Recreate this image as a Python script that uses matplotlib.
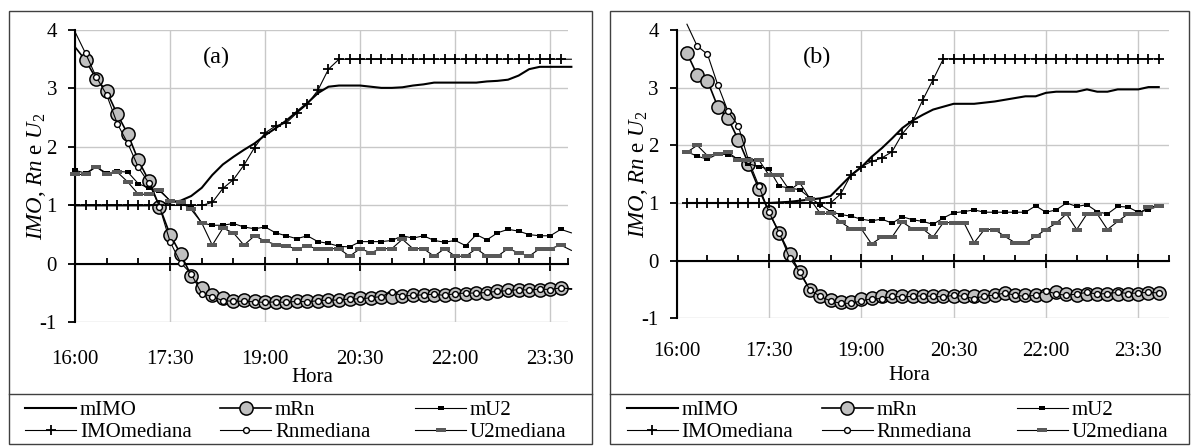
import numpy as np
import matplotlib
matplotlib.use('Agg')
import matplotlib.pyplot as plt
from matplotlib.lines import Line2D
from matplotlib.patches import Rectangle

W, H = 1191, 446
plt.rcParams['font.family'] = ['Liberation Serif', 'DejaVu Serif']
plt.rcParams['mathtext.fontset'] = 'custom'
plt.rcParams['mathtext.rm'] = 'Liberation Serif'
plt.rcParams['mathtext.it'] = 'Liberation Serif:italic'
plt.rcParams['axes.unicode_minus'] = False
FS = 15.0

# ---------------- data ----------------
# time of day in hours (10-minute records)
time_a = 16 + np.arange(48) / 6          # 16:00 ... 23:50
time_b = 16 + np.arange(1, 48) / 6       # 16:10 ... 23:50

xtick_hours = [16, 17.5, 19, 20.5, 22, 23.5]
xtick_labels = ['16:00', '17:30', '19:00', '20:30', '22:00', '23:30']
ytick_vals = [-1, 0, 1, 2, 3, 4]
ytick_labels = ['-1', '0', '1', '2', '3', '4']

# panel (a)
mimo_a = [1.00, 1.00, 1.00, 1.00, 1.00, 1.00, 1.00, 1.00, 1.02, 1.05,
          1.08, 1.16, 1.30, 1.52, 1.70, 1.83, 1.95, 2.06, 2.20, 2.32,
          2.45, 2.60, 2.75, 2.92, 3.03, 3.05, 3.05, 3.05, 3.03, 3.01,
          3.01, 3.02, 3.05, 3.07, 3.10, 3.10, 3.10, 3.10, 3.10, 3.12,
          3.13, 3.15, 3.22, 3.33, 3.37, 3.37, 3.37, 3.37]
imomed_a = [1.00, 1.00, 1.00, 1.00, 1.00, 1.00, 1.00, 1.00, 1.00, 1.00,
            1.00, 1.00, 1.00, 1.05, 1.29, 1.44, 1.69, 1.99, 2.24, 2.36,
            2.41, 2.58, 2.73, 2.97, 3.33, 3.50, 3.50, 3.50, 3.50, 3.50,
            3.50, 3.50, 3.50, 3.50, 3.50, 3.50, 3.50, 3.50, 3.50, 3.50,
            3.50, 3.50, 3.50, 3.50, 3.50, 3.50, 3.50, 3.50]
mrn_a = [3.71, 3.48, 3.17, 2.95, 2.56, 2.22, 1.77, 1.42, 0.98, 0.50,
         0.17, -0.20, -0.41, -0.53, -0.59, -0.63, -0.62, -0.64, -0.65, -0.65,
         -0.65, -0.64, -0.64, -0.63, -0.62, -0.61, -0.60, -0.59, -0.58, -0.57,
         -0.56, -0.55, -0.54, -0.53, -0.53, -0.53, -0.52, -0.51, -0.50, -0.50,
         -0.47, -0.45, -0.44, -0.44, -0.44, -0.43, -0.41, -0.43]
rnmed_a = [3.97, 3.60, 3.20, 2.89, 2.40, 2.06, 1.65, 1.38, 0.98, 0.38,
           0.02, -0.17, -0.51, -0.56, -0.63, -0.64, -0.64, -0.65, -0.66, -0.65,
           -0.66, -0.64, -0.65, -0.63, -0.62, -0.62, -0.60, -0.60, -0.58, -0.56,
           -0.48, -0.55, -0.54, -0.53, -0.52, -0.54, -0.51, -0.50, -0.50, -0.49,
           -0.47, -0.46, -0.44, -0.45, -0.43, -0.44, -0.41, -0.43]
mu2_a = [1.60, 1.55, 1.66, 1.55, 1.58, 1.57, 1.37, 1.30, 1.25, 1.08,
         1.05, 0.97, 0.70, 0.66, 0.66, 0.69, 0.63, 0.60, 0.63, 0.53,
         0.48, 0.43, 0.48, 0.38, 0.35, 0.30, 0.29, 0.38, 0.38, 0.38,
         0.40, 0.48, 0.44, 0.48, 0.40, 0.37, 0.40, 0.31, 0.50, 0.41,
         0.53, 0.59, 0.56, 0.50, 0.48, 0.48, 0.59, 0.53]
u2med_a = [1.53, 1.53, 1.66, 1.53, 1.57, 1.40, 1.19, 1.19, 1.27, 1.08,
           1.06, 0.93, 0.70, 0.32, 0.61, 0.53, 0.32, 0.48, 0.39, 0.33,
           0.30, 0.26, 0.30, 0.26, 0.26, 0.26, 0.13, 0.26, 0.19, 0.26,
           0.26, 0.42, 0.26, 0.26, 0.13, 0.26, 0.13, 0.13, 0.26, 0.13,
           0.13, 0.26, 0.19, 0.13, 0.26, 0.26, 0.32, 0.23]

# panel (b)
mimo_b = [1.00, 1.00, 1.00, 1.00, 1.00, 1.00, 1.00, 1.00, 1.00, 1.01,
          1.02, 1.04, 1.06, 1.08, 1.12, 1.30, 1.48, 1.62, 1.80, 1.95,
          2.12, 2.30, 2.43, 2.53, 2.62, 2.67, 2.72, 2.72, 2.72, 2.74,
          2.76, 2.79, 2.82, 2.85, 2.85, 2.91, 2.93, 2.93, 2.93, 2.97,
          2.93, 2.93, 2.97, 2.97, 2.97, 3.01, 3.01]
imomed_b = [1.00, 1.00, 1.00, 1.00, 1.00, 1.00, 1.00, 1.00, 1.00, 1.00,
            1.00, 1.00, 1.00, 1.00, 1.00, 1.16, 1.49, 1.63, 1.72, 1.78,
            1.89, 2.20, 2.41, 2.79, 3.14, 3.50, 3.50, 3.50, 3.50, 3.50,
            3.50, 3.50, 3.50, 3.50, 3.50, 3.50, 3.50, 3.50, 3.50, 3.50,
            3.50, 3.50, 3.50, 3.50, 3.50, 3.50, 3.50]
mrn_b = [3.60, 3.22, 3.12, 2.67, 2.47, 2.10, 1.68, 1.25, 0.84, 0.48,
         0.12, -0.20, -0.51, -0.61, -0.68, -0.71, -0.72, -0.67, -0.65, -0.61,
         -0.62, -0.62, -0.62, -0.62, -0.62, -0.62, -0.62, -0.61, -0.61, -0.61,
         -0.60, -0.56, -0.60, -0.60, -0.60, -0.60, -0.55, -0.57, -0.60, -0.58,
         -0.58, -0.58, -0.57, -0.57, -0.57, -0.56, -0.56]
rnmed_b = [4.10, 3.72, 3.58, 3.05, 2.59, 2.34, 1.74, 1.30, 0.84, 0.48,
           0.05, -0.20, -0.51, -0.62, -0.70, -0.74, -0.74, -0.70, -0.66, -0.66,
           -0.62, -0.63, -0.62, -0.61, -0.62, -0.63, -0.60, -0.62, -0.66, -0.61,
           -0.60, -0.56, -0.60, -0.62, -0.60, -0.52, -0.58, -0.60, -0.58, -0.55,
           -0.58, -0.57, -0.55, -0.57, -0.56, -0.55, -0.56]
mu2_b = [1.89, 1.81, 1.76, 1.85, 1.84, 1.76, 1.68, 1.63, 1.59, 1.29,
         1.26, 1.23, 1.09, 0.97, 0.85, 0.80, 0.77, 0.72, 0.69, 0.72,
         0.65, 0.76, 0.71, 0.68, 0.63, 0.74, 0.83, 0.85, 0.88, 0.84,
         0.84, 0.84, 0.84, 0.84, 0.95, 0.84, 0.88, 1.00, 0.94, 0.97,
         0.85, 0.81, 0.94, 0.93, 0.84, 0.88, 0.95]
u2med_b = [1.88, 2.00, 1.82, 1.85, 1.88, 1.75, 1.75, 1.75, 1.48, 1.48,
           1.22, 1.35, 1.07, 0.82, 0.82, 0.67, 0.55, 0.55, 0.29, 0.41,
           0.41, 0.67, 0.55, 0.55, 0.41, 0.66, 0.66, 0.66, 0.31, 0.54,
           0.54, 0.42, 0.31, 0.31, 0.42, 0.54, 0.65, 0.81, 0.54, 0.81,
           0.81, 0.54, 0.68, 0.81, 0.81, 0.93, 0.95]

# ---------------- styles ----------------
RECT_S = [(-1, -0.55), (1, -0.55), (1, 0.55), (-1, 0.55), (-1, -0.55)]
RECT_W = [(-1, -0.33), (1, -0.33), (1, 0.33), (-1, 0.33), (-1, -0.33)]
STYLES = {
    'mIMO': dict(color='black', lw=1.5),
    'mRn': dict(color='black', lw=1.2, marker='o', ms=9.5, mfc='#c0c0c0',
                mec='black', mew=1.1),
    'mU2': dict(color='black', lw=0.8, marker=RECT_S, ms=4.6, mfc='black',
                mec='black', mew=0),
    'IMOmediana': dict(color='black', lw=0.8, marker='+', ms=6.5, mew=1.3,
                       mec='black'),
    'Rnmediana': dict(color='black', lw=0.8, marker='o', ms=4.2, mfc='white',
                      mec='black', mew=1.0),
    'U2mediana': dict(color='black', lw=0.8, marker=RECT_W, ms=7.6,
                      mfc='#595959', mec='#595959', mew=0),
}
ZORD = {'mIMO': 3, 'mRn': 4, 'mU2': 5, 'IMOmediana': 6, 'Rnmediana': 7, 'U2mediana': 8}


def fx(px):
    return px / W


def fy(py):
    return 1 - py / H


fig = plt.figure(figsize=(W / 100, H / 100), dpi=100)

panels = [
    dict(label='(a)', t=time_a, xmax=23.78, box=(9, 11, 592, 444),
         ax=(75, 30, 568, 322.3), ylab_x=37, lab=(216, 57), hora=(312, 377),
         tick_y=359, leg_x=[25, 220, 415], skip_rn_first=True,
         data={'mIMO': mimo_a, 'IMOmediana': imomed_a, 'mRn': mrn_a,
               'Rnmediana': rnmed_a, 'mU2': mu2_a, 'U2mediana': u2med_a}),
    dict(label='(b)', t=time_b, xmax=24.0, box=(610, 11, 1189, 444),
         ax=(676.7, 30, 1169, 318.3), ylab_x=638, lab=(817, 57), hora=(909, 375),
         tick_y=352, leg_x=[626.7, 821.7, 1016.7], skip_rn_first=False,
         data={'mIMO': mimo_b, 'IMOmediana': imomed_b, 'mRn': mrn_b,
               'Rnmediana': rnmed_b, 'mU2': mu2_b, 'U2mediana': u2med_b}),
]

draw_order = ['mIMO', 'mRn', 'mU2', 'IMOmediana', 'Rnmediana', 'U2mediana']
legend_cols = [['mIMO', 'IMOmediana'], ['mRn', 'Rnmediana'], ['mU2', 'U2mediana']]
legend_rows_y = [408, 430]

for p in panels:
    l, t_, r, b = p['ax']
    ax = fig.add_axes([fx(l), fy(b), (r - l) / W, (b - t_) / H])
    ax.set_facecolor('none')
    ax.set_xlim(16, p['xmax'])
    ax.set_ylim(-1, 4)
    for s in ['top', 'right']:
        ax.spines[s].set_visible(False)
    ax.spines['left'].set_linewidth(1.5)
    ax.spines['bottom'].set_position(('data', 0))
    ax.spines['bottom'].set_linewidth(1.5)
    ax.set_yticks(ytick_vals)
    ax.set_yticklabels(ytick_labels)
    ax.set_xticks(xtick_hours)
    minor = [h for h in np.arange(16.5, p['xmax'] + 0.01, 0.5) if h not in xtick_hours]
    if p['xmax'] not in minor:
        minor.append(p['xmax'])
    ax.set_xticks(minor, minor=True)
    ax.tick_params(axis='y', direction='out', length=5, width=1.3,
                   labelsize=FS, pad=8)
    ax.tick_params(axis='x', which='major', direction='inout', length=10,
                   width=1.3, labelbottom=False)
    ax.tick_params(axis='x', which='minor', direction='in', length=4,
                   width=1.3, labelbottom=False)
    ax.grid(True, which='major', color='#c8c8c8', lw=1.0)
    ax.set_axisbelow(True)

    tt = p['t']
    for name in draw_order:
        y = p['data'][name]
        idx = [i for i in range(len(tt))
               if tt[i] <= p['xmax'] + 1e-9 and -1 <= y[i] <= 4]
        if p['skip_rn_first'] and name in ('mRn', 'Rnmediana'):
            idx = [i for i in idx if i > 0]
        ax.plot(tt, y, markevery=idx, clip_on=False, zorder=ZORD[name],
                **STYLES[name])

    for h, lab in zip(xtick_hours, xtick_labels):
        ax.annotate(lab, xy=(h, fy(p['tick_y'])), xycoords=('data', 'figure fraction'),
                    ha='center', va='center', fontsize=FS, annotation_clip=False)

    fig.text(fx(p['ylab_x']), fy((t_ + b) / 2), r'$IMO$, $Rn$ e $U_2$',
             rotation=90, ha='center', va='center', fontsize=16.5)
    fig.text(fx(p['hora'][0]), fy(p['hora'][1]), 'Hora', ha='center',
             va='center', fontsize=FS)
    fig.text(fx(p['lab'][0]), fy(p['lab'][1]), p['label'], ha='center',
             va='center', fontsize=17.5)

    # frame and legend area
    x0, y0, x1, y1 = p['box']
    fig.add_artist(Rectangle((fx(x0), fy(y1)), (x1 - x0) / W, (y1 - y0) / H,
                             transform=fig.transFigure, fill=False,
                             edgecolor='#404040', lw=1.0))
    fig.add_artist(Line2D([fx(x0), fx(x1)], [fy(394), fy(394)],
                          transform=fig.transFigure, color='#404040', lw=1.0))

    # legend (2 rows x 3 columns)
    for cx, col in zip(p['leg_x'], legend_cols):
        for ry, name in zip(legend_rows_y, col):
            st = STYLES[name]
            line_kw = {k: v for k, v in st.items() if k in ('color', 'lw')}
            fig.add_artist(Line2D([fx(cx), fx(cx + 51)], [fy(ry), fy(ry)],
                                  transform=fig.transFigure, **line_kw))
            if 'marker' in st:
                mk = {k: v for k, v in st.items() if k not in ('color', 'lw')}
                fig.add_artist(Line2D([fx(cx + 25.5)], [fy(ry)], ls='none',
                                      transform=fig.transFigure, **mk))
            fig.text(fx(cx + 55), fy(ry + 6.8), name, ha='left', va='baseline',
                     fontsize=FS)

fig.savefig('out.png', dpi=100)
